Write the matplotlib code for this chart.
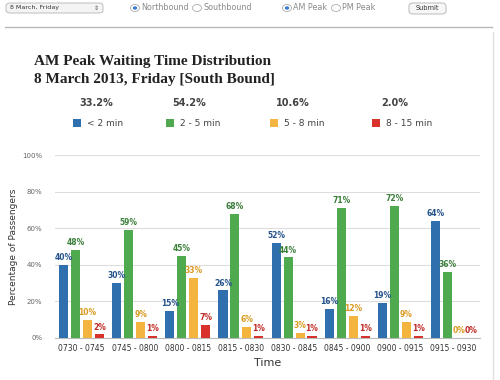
import matplotlib.pyplot as plt
from matplotlib.patches import FancyBboxPatch, Circle, Rectangle
import numpy as np

# data
intervalos = ['0730 - 0745', '0745 - 0800', '0800 - 0815', '0815 - 0830',
              '0830 - 0845', '0845 - 0900', '0900 - 0915', '0915 - 0930']
menos2 = [40, 30, 15, 26, 52, 16, 19, 64]
de2a5 = [48, 59, 45, 68, 44, 71, 72, 36]
de5a8 = [10, 9, 33, 6, 3, 12, 9, 0]
de8a15 = [2, 1, 7, 1, 1, 1, 1, 0]
categorias = ['< 2 min', '2 - 5 min', '5 - 8 min', '8 - 15 min']
totales = ['33.2%', '54.2%', '10.6%', '2.0%']

colores = ['#2f6fad', '#4fa94f', '#f3b540', '#d9322d']
coloresTexto = ['#24528a', '#3c7f3c', '#d99a20', '#c02a26']

fig = plt.figure(figsize=(5, 3.8), dpi=100)
W, H = 500, 380

def px(x, y):
    return x / W, 1 - y / H

# barra de controles arriba
caja = FancyBboxPatch(px(6, 13), 97 / W, 10 / H, boxstyle='round,pad=0,rounding_size=0.008',
                      transform=fig.transFigure, facecolor='#f4f4f4', edgecolor='#b5b5b5', lw=0.6)
fig.add_artist(caja)
fig.text(*px(10, 8), '8 March, Friday', fontsize=4.6, va='center', color='#333333')
fig.text(*px(96, 8), '\u21d5', fontsize=4.5, va='center', ha='center', color='#555555')

def radio(x, etiqueta, marcado):
    cx, cy = px(x, 8)
    fig.add_artist(Circle((cx, cy), 4.5 / W, transform=fig.transFigure,
                          facecolor='white', edgecolor='#9a9a9a', lw=0.5))
    if marcado:
        fig.add_artist(Circle((cx, cy), 2.2 / W, transform=fig.transFigure,
                              facecolor='#3a78c9', edgecolor='none'))
    fig.text(*px(x + 6, 8), etiqueta, fontsize=5.8, va='center', color='#8a8a8a')

radio(135, 'Northbound', True)
radio(197, 'Southbound', False)
radio(287, 'AM Peak', True)
radio(336, 'PM Peak', False)

boton = FancyBboxPatch(px(409, 14), 37 / W, 11 / H, boxstyle='round,pad=0,rounding_size=0.008',
                       transform=fig.transFigure, facecolor='#f7f7f7', edgecolor='#b0b0b0', lw=0.6)
fig.add_artist(boton)
fig.text(*px(427.5, 8.5), 'Submit', fontsize=4.8, va='center', ha='center', color='#333333')

fig.add_artist(plt.Line2D([5 / W, 492 / W], [1 - 27 / H, 1 - 27 / H], transform=fig.transFigure,
                          color='#b8b8b8', lw=1))
fig.add_artist(plt.Line2D([493 / W, 493 / W], [0, 1 - 32 / H], transform=fig.transFigure,
                          color='#e0e0e0', lw=1))

# titulo
fig.text(*px(34, 62), 'AM Peak Waiting Time Distribution', fontsize=11, fontweight='bold',
         family='Liberation Serif', color='#222222', va='center')
fig.text(*px(34, 80), '8 March 2013, Friday [South Bound]', fontsize=11, fontweight='bold',
         family='Liberation Serif', color='#222222', va='center')

# leyenda con totales
posLeyenda = [73, 166, 270, 372]
for i in range(4):
    x = posLeyenda[i]
    fig.text(*px(x + 23, 103), totales[i], fontsize=7, fontweight='bold', color='#444444',
             ha='center', va='center')
    fig.add_artist(Rectangle(px(x, 127), 8 / W, 8 / H, transform=fig.transFigure,
                             facecolor=colores[i], edgecolor='none'))
    fig.text(*px(x + 14, 123), categorias[i], fontsize=6.5, color='#444444', va='center')

# grafica
ax = fig.add_axes([55 / W, 1 - 338 / H, 425 / W, 183 / H])
x = np.arange(len(intervalos))
series = [menos2, de2a5, de5a8, de8a15]
ancho = 0.17
paso = 0.225
for i, serie in enumerate(series):
    pos = x + (i - 1.5) * paso
    ax.bar(pos, serie, width=ancho, color=colores[i], zorder=3)
    for p, v in zip(pos, serie):
        ax.text(p, v + 1.5, '%d%%' % v, ha='center', va='bottom', fontsize=5.5,
                color=coloresTexto[i], fontweight='bold', zorder=4)

ax.set_xlim(-0.5, len(intervalos) - 0.5)
ax.set_ylim(0, 100)
ax.set_yticks([0, 20, 40, 60, 80, 100])
ax.set_yticklabels(['0%', '20%', '40%', '60%', '80%', '100%'], fontsize=5, color='#666666')
ax.set_xticks(x)
ax.set_xticklabels(intervalos, fontsize=5.5, color='#333333')
ax.grid(axis='y', color='#dddddd', lw=0.8, zorder=0)
ax.tick_params(axis='x', length=0, pad=4)
ax.tick_params(axis='y', length=0, pad=9)
for lado in ['top', 'right', 'left']:
    ax.spines[lado].set_visible(False)
ax.spines['bottom'].set_color('#bbbbbb')
ax.set_ylabel('Percentage of Passengers', fontsize=6.5, color='#333333', labelpad=3)
ax.set_xlabel('Time', fontsize=8, color='#333333', labelpad=4)

fig.savefig('out.png', dpi=100)
